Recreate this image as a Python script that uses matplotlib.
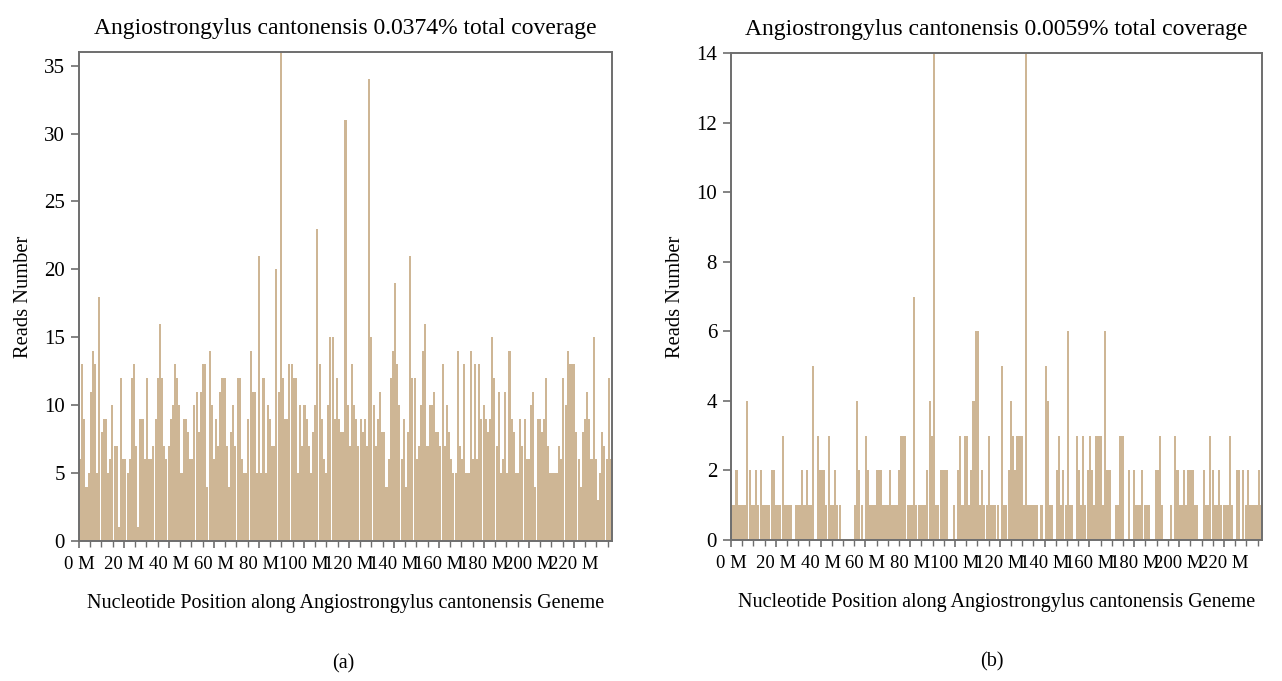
import numpy as np
import matplotlib.pyplot as plt

plt.rcParams['font.family'] = 'Liberation Serif'

# reads per ~1 Mb window, panel (a)
reads_a = [6, 13, 9, 4, 5, 11, 14, 13, 5, 18, 8, 9, 9, 5, 6, 10, 7, 7, 1, 12,
           6, 6, 5, 6, 12, 13, 7, 1, 9, 9, 6, 12, 6, 6, 7, 9, 12, 16, 12, 7,
           6, 7, 9, 10, 13, 12, 10, 5, 9, 9, 8, 6, 6, 10, 11, 8, 11, 13, 13, 4,
           14, 10, 6, 9, 7, 11, 12, 12, 7, 4, 8, 10, 7, 12, 12, 6, 5, 5, 9, 14,
           11, 11, 5, 21, 5, 12, 5, 10, 9, 7, 7, 20, 11, 36, 12, 9, 9, 13, 13, 12,
           12, 5, 10, 7, 10, 9, 7, 5, 8, 10, 23, 13, 9, 6, 5, 10, 15, 15, 9, 12,
           9, 8, 8, 31, 10, 7, 13, 10, 9, 7, 9, 8, 9, 7, 34, 15, 10, 7, 9, 11,
           8, 8, 4, 6, 12, 14, 19, 13, 10, 6, 9, 4, 8, 21, 12, 12, 6, 7, 10, 14,
           16, 7, 10, 10, 11, 8, 8, 7, 13, 7, 10, 8, 6, 5, 5, 14, 7, 6, 13, 5,
           5, 14, 6, 13, 6, 13, 9, 10, 9, 8, 9, 15, 12, 7, 11, 5, 6, 11, 5, 14,
           9, 8, 5, 5, 9, 7, 9, 6, 6, 10, 11, 4, 9, 9, 8, 9, 12, 7, 5, 5,
           5, 5, 7, 6, 12, 10, 14, 13, 13, 13, 8, 6, 4, 8, 9, 11, 9, 6, 15, 6,
           3, 5, 8, 7, 6, 12, 6]

# reads per ~1 Mb window, panel (b)
reads_b = [1, 1, 2, 1, 1, 1, 1, 4, 2, 1, 1, 2, 1, 2, 1, 1, 1, 1, 2, 2,
           1, 1, 1, 3, 1, 1, 1, 1, 0, 1, 1, 1, 2, 1, 2, 1, 1, 5, 0, 3,
           2, 2, 2, 1, 3, 1, 1, 2, 1, 1, 0, 0, 0, 0, 0, 0, 1, 4, 2, 1,
           0, 3, 2, 1, 1, 1, 2, 2, 2, 1, 1, 1, 2, 1, 1, 1, 2, 3, 3, 3,
           1, 1, 1, 7, 1, 1, 1, 1, 1, 2, 4, 3, 14, 1, 1, 2, 2, 2, 2, 0,
           0, 1, 0, 2, 3, 1, 3, 3, 1, 2, 4, 6, 6, 1, 2, 1, 1, 3, 1, 1,
           1, 1, 0, 5, 1, 1, 2, 4, 3, 2, 3, 3, 3, 1, 14, 1, 1, 1, 1, 1,
           0, 1, 0, 5, 4, 1, 1, 0, 2, 3, 1, 2, 1, 6, 1, 1, 0, 3, 2, 1,
           3, 1, 2, 3, 2, 1, 3, 3, 3, 1, 6, 2, 2, 0, 0, 1, 1, 3, 3, 0,
           0, 2, 0, 2, 1, 1, 1, 2, 1, 1, 1, 0, 0, 2, 2, 3, 1, 0, 0, 0,
           1, 0, 3, 2, 1, 1, 2, 1, 2, 2, 2, 1, 1, 0, 0, 2, 1, 1, 3, 2,
           1, 1, 2, 1, 1, 1, 1, 3, 1, 0, 2, 2, 0, 2, 1, 2, 1, 1, 1, 1,
           2, 1]

titles = ['Angiostrongylus cantonensis 0.0374% total coverage',
          'Angiostrongylus cantonensis 0.0059% total coverage']
panel_tags = ['(a)', '(b)']
x_ticks = list(range(0, 240, 20))
x_ticklabels = ['%d M' % t for t in x_ticks]
xlabel = 'Nucleotide Position along Angiostrongylus cantonensis Geneme'
ylabel = 'Reads Number'

bar_col = '#c9ae8a'
frame_col = '#6e6e6e'
genome_len = 237.

fig = plt.figure(figsize=(12.82, 6.81), dpi=100)
ax_a = fig.add_axes([0.0616, 0.2056, 0.4158, 0.718])
ax_b = fig.add_axes([0.5702, 0.2070, 0.4142, 0.715])

for ax, reads, ymax, ystep, title in [(ax_a, reads_a, 36, 5, titles[0]),
                                      (ax_b, reads_b, 14, 2, titles[1])]:
    step = genome_len / len(reads)
    pos = np.arange(len(reads)) * step + step / 2
    ax.bar(pos, reads, width=step * 0.95, color=bar_col, edgecolor='none', alpha=0.9)

    ax.set_xlim(0, genome_len)
    ax.set_ylim(0, ymax)
    ax.set_yticks(np.arange(0, ymax + 0.1, ystep))
    ax.set_xticks(x_ticks)
    ax.set_xticklabels(x_ticklabels)
    ax.set_xticks(np.arange(0, genome_len, 5), minor=True)

    for s in ax.spines.values():
        s.set_color(frame_col)
        s.set_linewidth(1.4)
    ax.tick_params(axis='y', labelsize=15, length=6, width=1.2, color=frame_col, pad=4)
    ax.tick_params(axis='x', which='major', labelsize=13.5, length=5, width=1.2, color=frame_col, pad=6)
    ax.tick_params(axis='x', which='minor', length=4, width=1.0, color=frame_col)

    ax.set_title(title, fontsize=17, pad=13)
    ax.set_xlabel(xlabel, fontsize=14.5, labelpad=15)
    ax.set_ylabel(ylabel, fontsize=14.8, labelpad=8)

fig.text(0.268, 0.018, panel_tags[0], fontsize=14.5, ha='center')
fig.text(0.774, 0.022, panel_tags[1], fontsize=14.5, ha='center')

plt.savefig('out.png', dpi=100)
